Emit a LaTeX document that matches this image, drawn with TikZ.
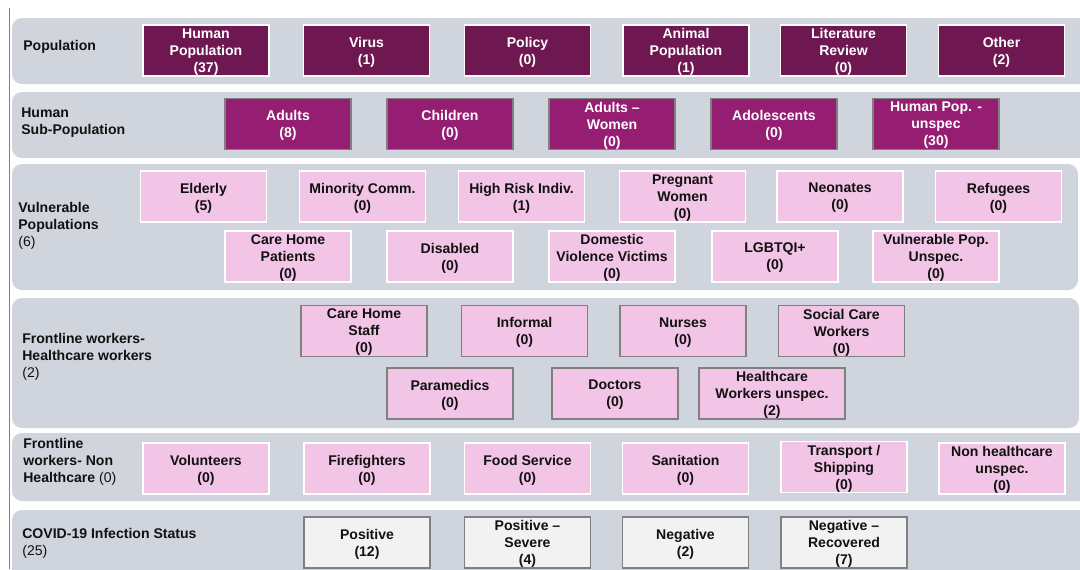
\documentclass[tikz,border=0pt]{standalone}
\usepackage{fontspec}
\setmainfont{Liberation Sans}
\definecolor{bandgray}{HTML}{D0D4DC}
\definecolor{darkplum}{HTML}{6E1751}
\definecolor{plum}{HTML}{951D72}
\definecolor{pinkbox}{HTML}{F2C4E6}
\definecolor{lightbox}{HTML}{F2F2F2}
\definecolor{edgegray}{HTML}{808080}
\definecolor{txt}{HTML}{111111}
\begin{document}
\begin{tikzpicture}[x=0.02cm,y=-0.02cm,
  band/.style={fill=bandgray,draw=none,rounded corners=0.2cm},
  catbox/.style={rectangle,minimum width=2.52cm,minimum height=1.02cm,inner sep=0pt,align=center,
     text depth=0pt,font=\bfseries\fontsize{8}{9.7}\selectfont,line width=0.6pt},
  popbox/.style={catbox,fill=darkplum,draw=white,text=white},
  subbox/.style={catbox,fill=plum,draw=edgegray,text=white},
  vulbox/.style={catbox,fill=pinkbox,draw=white,text=txt},
  hcbox/.style={catbox,fill=pinkbox,draw=edgegray,text=txt},
  nhbox/.style={catbox,fill=pinkbox,draw=white,text=txt},
  covbox/.style={catbox,fill=lightbox,draw=edgegray,text=txt},
  rowlabel/.style={anchor=west,align=left,inner sep=0pt,text=txt,
     font=\bfseries\fontsize{8}{9.6}\selectfont},
  leftrule/.style={draw=edgegray,line width=0.6pt}]
\useasboundingbox (0,0) rectangle (1080,569);
\clip (0,0) rectangle (1080,569);
% left rule
\coordinate (ruletop) at (9.5,8);
\coordinate (rulebot) at (9.5,569);
\draw[leftrule] (ruletop) -- (rulebot);
% bands
\fill[band] (12,18) rectangle (1095,84);
\fill[band] (12,92) rectangle (1095,158);
\fill[band] (12,164) rectangle (1078,290);
\fill[band] (12,298) rectangle (1079,428);
\fill[band] (12,433) rectangle (1095,501);
\fill[band] (12,510) rectangle (1095,590);
% row labels
\node[rowlabel] (lpop) at (23,47) {Population};
\node[rowlabel] (lsub) at (21,122.5) {Human\\Sub-Population};
\node[rowlabel] (lvul) at (18,226) {Vulnerable\\Populations\\{\mdseries (6)}};
\node[rowlabel] (lhc) at (22,357) {Frontline workers-\\Healthcare workers\\{\mdseries (2)}};
\node[rowlabel] (lnh) at (23,461.5) {Frontline\\workers- Non\\Healthcare {\mdseries (0)}};
\node[rowlabel] (lcov) at (22,543) {COVID-19 Infection Status\\{\mdseries (25)}};
% row 1
\node[popbox] (hp) at (206,50.5) {Human\\Population\\(37)};
\node[popbox] (virus) at (366.5,50.5) {Virus\\(1)};
\node[popbox] (policy) at (527.5,50.5) {Policy\\(0)};
\node[popbox] (animal) at (686,50.5) {Animal\\Population\\(1)};
\node[popbox] (lit) at (843.5,50.5) {Literature\\Review\\(0)};
\node[popbox] (other) at (1001.5,50.5) {Other\\(2)};
% row 2
\node[subbox] (adults) at (288,124) {Adults\\(8)};
\node[subbox] (children) at (450,124) {Children\\(0)};
\node[subbox] (women) at (612,124) {Adults --\\Women\\(0)};
\node[subbox] (adol) at (774,124) {Adolescents\\(0)};
\node[subbox] (hpun) at (936,124) {Human Pop. -\\unspec\\(30)};
% row 3
\node[vulbox] (elderly) at (203.5,196.5) {Elderly\\(5)};
\node[vulbox] (minority) at (362.5,196.5) {Minority Comm.\\(0)};
\node[vulbox] (highrisk) at (521.5,196.5) {High Risk Indiv.\\(1)};
\node[vulbox] (pregnant) at (682.5,196.5) {Pregnant\\Women\\(0)};
\node[vulbox] (neonates) at (840,196.5) {Neonates\\(0)};
\node[vulbox] (refugees) at (998.5,196.5) {Refugees\\(0)};
\node[vulbox] (chp) at (288,256.5) {Care Home\\Patients\\(0)};
\node[vulbox] (disabled) at (450,256.5) {Disabled\\(0)};
\node[vulbox] (dvv) at (612,256.5) {Domestic\\Violence Victims\\(0)};
\node[vulbox] (lgbt) at (775,256.5) {LGBTQI+\\(0)};
\node[vulbox] (vpu) at (936,256.5) {Vulnerable Pop.\\Unspec.\\(0)};
% row 4
\node[hcbox] (chs) at (364,331) {Care Home\\Staff\\(0)};
\node[hcbox] (informal) at (524.5,331) {Informal\\(0)};
\node[hcbox] (nurses) at (683,331) {Nurses\\(0)};
\node[hcbox] (scw) at (841.5,331) {Social Care\\Workers\\(0)};
\node[hcbox] (para) at (450,393.5) {Paramedics\\(0)};
\node[hcbox] (doctors) at (615,393.5) {Doctors\\(0)};
\node[hcbox,minimum width=2.92cm] (hcwu) at (772,393.5) {Healthcare\\Workers unspec.\\(2)};
% row 5
\node[nhbox] (vol) at (206,468.5) {Volunteers\\(0)};
\node[nhbox] (fire) at (367,468.5) {Firefighters\\(0)};
\node[nhbox] (food) at (527.5,468.5) {Food Service\\(0)};
\node[nhbox] (sanit) at (685.5,468.5) {Sanitation\\(0)};
\node[nhbox] (transp) at (844,467) {Transport /\\Shipping\\(0)};
\node[nhbox] (nhun) at (1002,468.5) {Non healthcare\\unspec.\\(0)};
% row 6
\node[covbox] (pos) at (367,542.5) {Positive\\(12)};
\node[covbox] (possev) at (527.5,542.5) {Positive --\\Severe\\(4)};
\node[covbox] (neg) at (685.5,542.5) {Negative\\(2)};
\node[covbox] (negrec) at (844,542.5) {Negative --\\Recovered\\(7)};
\end{tikzpicture}
\end{document}
